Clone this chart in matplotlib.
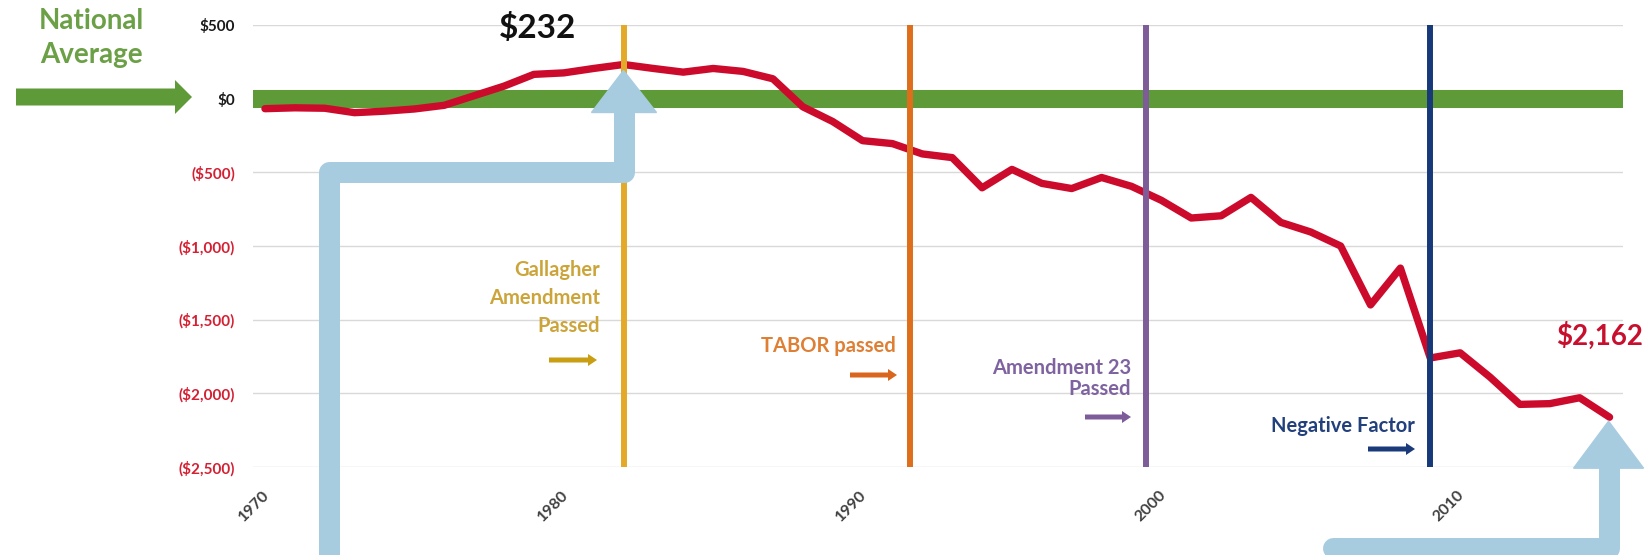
import matplotlib
matplotlib.use("Agg")
import matplotlib.pyplot as plt
from matplotlib.patches import FancyArrow, Polygon
from matplotlib.lines import Line2D
from matplotlib.transforms import IdentityTransform, ScaledTranslation

plt.rcParams['font.family'] = ['Lato', 'DejaVu Sans']

# ---------------- data ----------------
years = list(range(1970, 2016))
values = [-68, -62, -65, -95, -85, -70, -45, 20, 85, 165,
          175, 205, 232, 205, 180, 205, 185, 135, -55, -155,
          -285, -305, -375, -400, -605, -480, -575, -610, -535, -595,
          -690, -810, -795, -670, -840, -905, -1000, -1400, -1150, -1760,
          -1725, -1890, -2075, -2070, -2030, -2162]

national_average = 0

yticks = [500, 0, -500, -1000, -1500, -2000, -2500]
ytick_labels = ["$500", "$0", "($500)", "($1,000)", "($1,500)", "($2,000)", "($2,500)"]
xticks = [1970, 1980, 1990, 2000, 2010]
xtick_labels = ["1970", "1980", "1990", "2000", "2010"]

event_years = [1982, 1991.6, 1999.5, 2009]
event_labels = ["Gallagher\nAmendment\nPassed", "TABOR passed", "Amendment 23\nPassed", "Negative Factor"]
event_line_colors = ["#E2AA28", "#DF6E1C", "#7D5C98", "#17397A"]
event_text_colors = ["#CCA53A", "#DE7F34", "#7E63A0", "#21407C"]
event_arrow_colors = ["#C99E12", "#D9661C", "#7E5C9A", "#1A3A7A"]

peak_label = "$232"
end_label = "$2,162"

# ---------------- figure ----------------
W, H = 1652, 555
fig = plt.figure(figsize=(W / 100, H / 100), dpi=100)
ax = fig.add_axes([253 / W, 1 - 467 / H, (1623 - 253) / W, (467 - 25) / H])
ax.set_xlim(1969.6, 2015.45)
ax.set_ylim(-2500, 500)

for s in ax.spines.values():
    s.set_visible(False)

ax.set_yticks(yticks)
ax.set_yticklabels(ytick_labels)
ax.grid(axis='y', color='#D9D9D9', lw=1.0, zorder=0)
ax.set_axisbelow(True)
ax.tick_params(axis='y', length=0, pad=13, labelsize=11)
for lab, v in zip(ax.get_yticklabels(), yticks):
    lab.set_fontweight('bold')
    lab.set_color('#1A1A1A' if v >= 0 else '#D42033')

ax.set_xticks(xticks)
ax.set_xticklabels(xtick_labels, rotation=45, ha='right', fontweight='bold', color='#404040')
ax.tick_params(axis='x', length=0, pad=15, labelsize=11.5)
shift = ScaledTranslation(7 / 100, 0, fig.dpi_scale_trans)
for lab in ax.get_xticklabels():
    lab.set_transform(lab.get_transform() + shift)

GREEN = "#5E9B38"
RED = "#CC0A2C"
BLUE = "#A7CCE0"

# national average band
ax.axhline(national_average, color=GREEN, lw=13, solid_capstyle='butt', zorder=2)

# data line
ax.plot(years, values, color=RED, lw=5.3, zorder=3, solid_joinstyle='round', solid_capstyle='round')

# event lines
for x, c in zip(event_years, event_line_colors):
    ax.axvline(x, color=c, lw=4.3, zorder=6)

ident = IdentityTransform()

def disp(x, y):
    return ax.transData.transform((x, y))

# ---- light-blue elbow arrows (anchored to peak / end data points) ----
lw_shaft = 21 * 72 / 100
# left arrow to the peak
i_peak = values.index(max(values))
px, py = disp(years[i_peak], values[i_peak])
tip_y = py - 6
base_y = tip_y - 42
corner_y = tip_y - 102
left_x = px - 295
fig.add_artist(Line2D([left_x, left_x, px, px], [-20, corner_y, corner_y, base_y + 1],
                      transform=ident, color=BLUE, lw=lw_shaft,
                      solid_joinstyle='round', solid_capstyle='butt', zorder=4))
fig.add_artist(Polygon([[px - 32, base_y], [px + 33, base_y], [px, tip_y]], closed=True,
                       transform=ident, color=BLUE, zorder=4))

# right arrow to the last point
ex, ey = disp(years[-1], values[-1])
tip_y2 = ey - 4
base_y2 = tip_y2 - 47
corner_y2 = tip_y2 - 127
shaft_x2 = ex - 1
fig.add_artist(Line2D([ex - 277, shaft_x2, shaft_x2], [corner_y2, corner_y2, base_y2 + 1],
                      transform=ident, color=BLUE, lw=lw_shaft,
                      solid_joinstyle='round', solid_capstyle='round', zorder=4))
fig.add_artist(Polygon([[shaft_x2 - 35, base_y2], [shaft_x2 + 35, base_y2], [shaft_x2, tip_y2]],
                       closed=True, transform=ident, color=BLUE, zorder=4))

# ---- national average label and arrow ----
fig.text(91 / W, 1 - 38 / H, "National\nAverage", ha='center', va='center',
         fontsize=20, fontweight='bold', color="#6BA046", linespacing=1.35)
fig.add_artist(FancyArrow(16, H - 97, 176, 0, width=17, head_width=34, head_length=17,
                          length_includes_head=True, color=GREEN, transform=ident, lw=0))

# ---- value labels ----
fig.text(538 / W, 1 - 28 / H, peak_label, ha='center', va='center',
         fontsize=24, fontweight='bold', color='#111111')
fig.text(1600 / W, 1 - 336 / H, end_label, ha='center', va='center',
         fontsize=20, fontweight='bold', color='#C8102E')

# ---- event labels (right-aligned just left of each line) ----
label_pos = [(600, 298, 1.5), (896, 346, 1.2), (1131, 378.5, 1.1), (1415, 426, 1.2)]
arrow_pos = [(549, 597, 360), (850, 897, 375), (1085, 1131, 417), (1368, 1415, 449)]
for txt, tc, ac, (lx, ly, ls), (ax0, ax1, ay) in zip(event_labels, event_text_colors,
                                                      event_arrow_colors, label_pos, arrow_pos):
    fig.text(lx / W, 1 - ly / H, txt, ha='right', va='center', fontsize=14.5,
             fontweight='bold', color=tc, linespacing=ls, multialignment='right')
    fig.add_artist(FancyArrow(ax0, H - ay, ax1 - ax0, 0, width=5, head_width=12, head_length=9,
                              length_includes_head=True, color=ac, transform=ident, lw=0))

fig.savefig("out.png", dpi=100)
